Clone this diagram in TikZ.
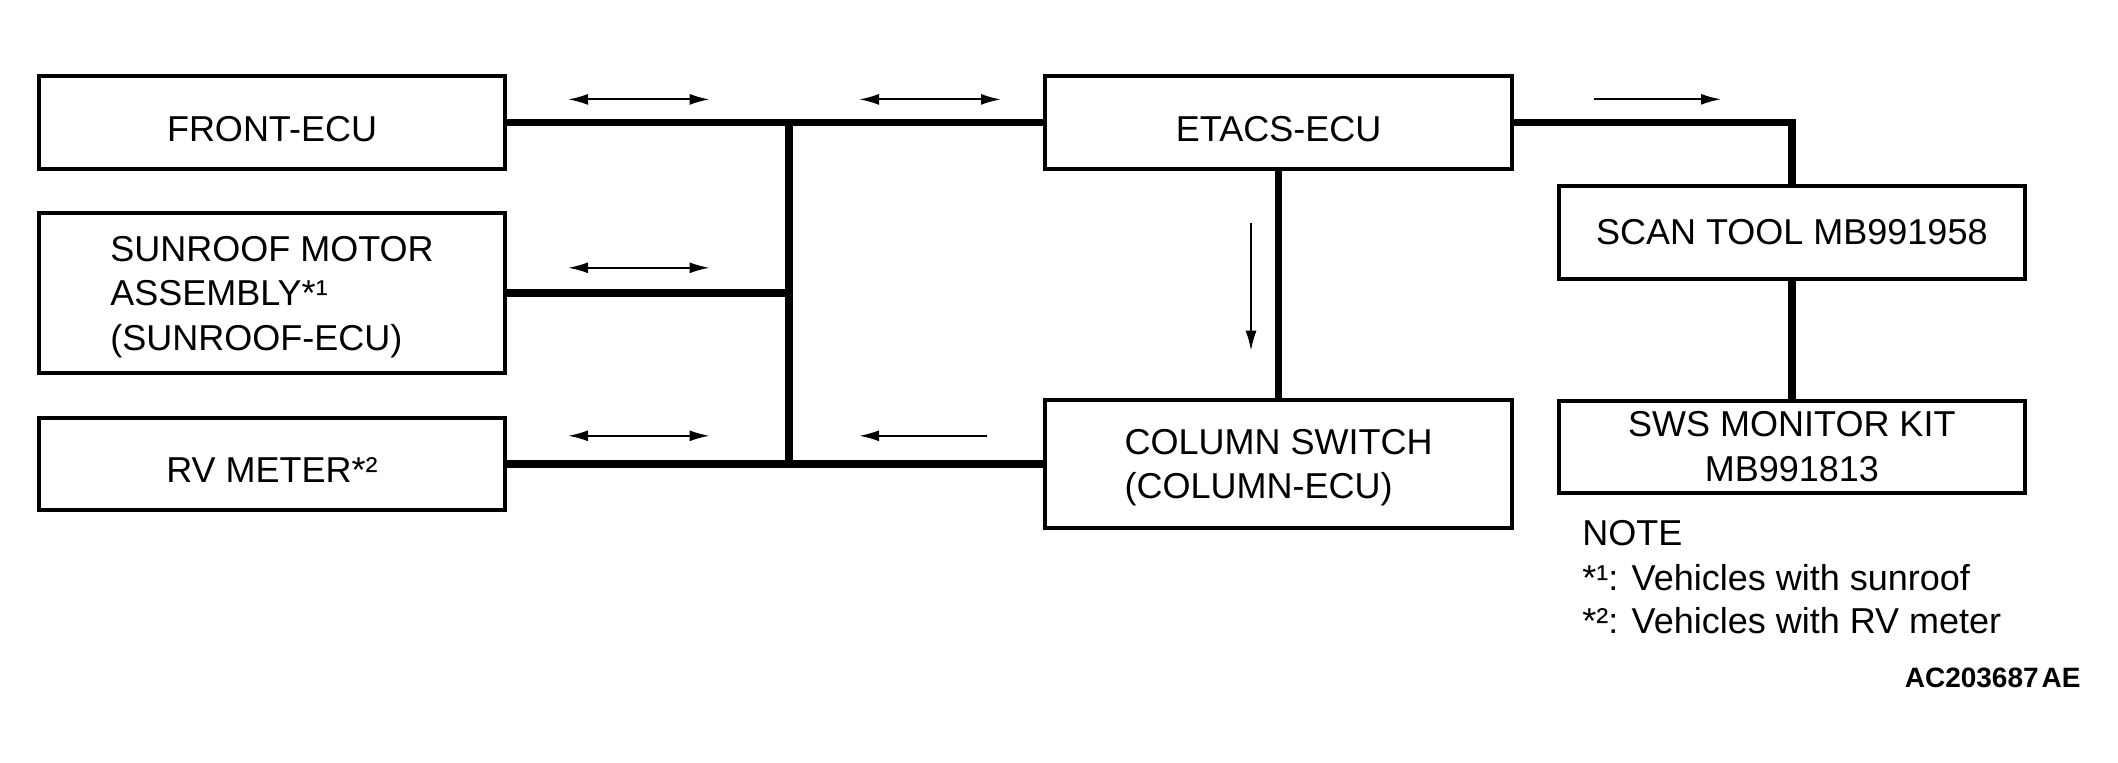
\documentclass[tikz,border=0pt]{standalone}
\usepackage{fontspec}
\setmainfont{Liberation Sans}
\usetikzlibrary{arrows.meta}

\begin{document}
\begin{tikzpicture}[x=0.5pt,y=-0.5pt,
        box/.style={draw,line width=2pt,minimum width=233.3pt,inner sep=0pt,font=\fontsize{18pt}{22.25pt}\selectfont},
        lowtext/.style={text height=19pt,text depth=0pt},
        bus/.style={line width=3.75pt},
        flow/.style={line width=1pt,-{Latex[length=10pt,width=5.5pt]}},
        dualflow/.style={line width=1pt,{Latex[length=10pt,width=5.5pt]}-{Latex[length=10pt,width=5.5pt]}},
        note/.style={anchor=base west,inner sep=0pt,font=\fontsize{18pt}{22.25pt}\selectfont}]
                \useasboundingbox (0,0) rectangle (2118,763);
                % left side units
                \node [box,lowtext,minimum height=46.5pt] (front) at (272,122.5) {FRONT-ECU};
                \node [box,align=left,text depth=0pt,minimum height=80.3pt] (sunroof) at (272,293) {SUNROOF MOTOR\\ASSEMBLY*¹\\(SUNROOF-ECU)};
                \node [box,lowtext,minimum height=46pt] (rv) at (272,464) {RV METER*²};
                % right side units
                \node [box,lowtext,minimum height=46.5pt] (etacs) at (1278.6,122.5) {ETACS-ECU};
                \node [box,align=left,text depth=0pt,minimum height=64pt] (column) at (1278.6,464) {COLUMN SWITCH\\(COLUMN-ECU)};
                \node [box,minimum height=46.4pt] (scan) at (1791.8,232.4) {SCAN TOOL MB991958};
                \node [box,align=center,minimum height=46.2pt] (sws) at (1791.8,446.8) {SWS MONITOR KIT\\MB991813};
                % bus lines
                \coordinate (jtop) at (789,122.5);
                \coordinate (jbot) at (789,464);
                \draw [bus] (front.east) -- (etacs.west);
                \draw [bus] (rv.east) -- (column.west);
                \draw [bus] (jtop) -- (jbot);
                \draw [bus] (sunroof.east) -- (sunroof.east -| jtop);
                \draw [bus] (etacs.south) -- (column.north);
                \draw [bus] (etacs.east) -| (scan.north);
                \draw [bus] (scan.south) -- (sws.north);
                % signal directions
                \foreach \y in {99.4,267.8,435.8}
                    \draw [dualflow] (568,\y) -- (709.6,\y);
                \draw [dualflow] (859,99.4) -- (1001,99.4);
                \draw [flow] (987,435.8) -- (859,435.8);
                \draw [flow] (1251,222.7) -- (1251,350.7);
                \draw [flow] (1594,99.3) -- (1721,99.3);
                % notes
                \node [note] (note0) at (1582,545.7) {NOTE};
                \node [note] (note1) at (1582,590) {*¹: Vehicles with sunroof};
                \node [note] (note2) at (1582,633.7) {*²: Vehicles with RV meter};
                \node [anchor=base east,inner sep=0pt,font=\bfseries\fontsize{14pt}{16pt}\selectfont] (figid) at (2081,687) {AC203687\kern1.5pt AE};
            \end{tikzpicture}
\end{document}
